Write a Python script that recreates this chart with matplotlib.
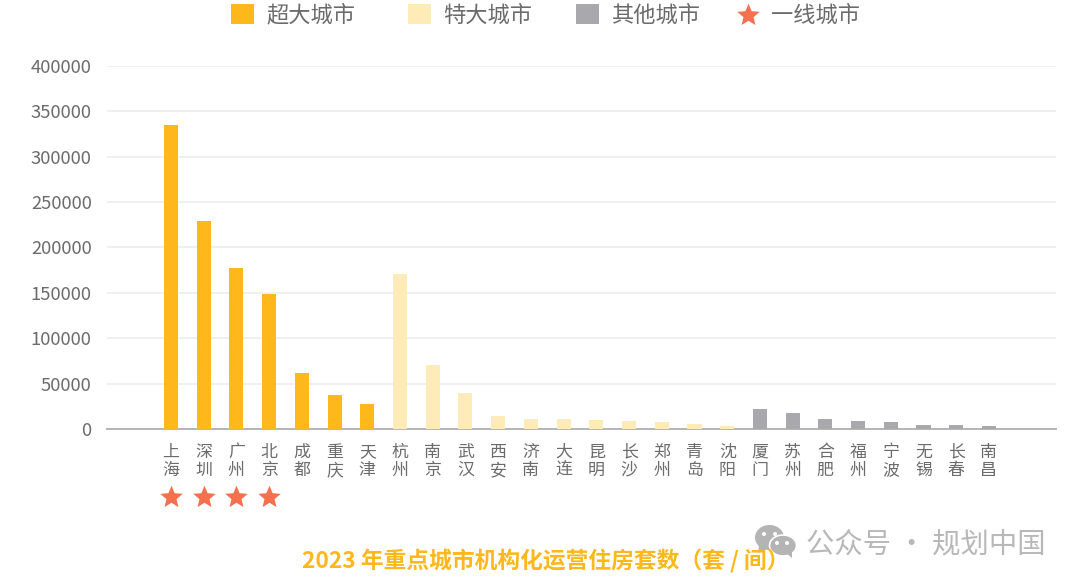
import matplotlib
matplotlib.use("Agg")
import matplotlib.pyplot as plt
from matplotlib.patches import Rectangle, Ellipse, Polygon
from matplotlib.lines import Line2D
from matplotlib.path import Path
from matplotlib.transforms import blended_transform_factory

plt.rcParams['font.family'] = ['Noto Sans CJK SC', 'DejaVu Sans']

cities_mega = ["上海", "深圳", "广州", "北京", "成都", "重庆", "天津"]
values_mega = [335000, 229000, 177000, 149000, 62000, 38000, 28000]
cities_super = ["杭州", "南京", "武汉", "西安", "济南", "大连", "昆明", "长沙", "郑州", "青岛", "沈阳"]
values_super = [171000, 70000, 40000, 14000, 10500, 10500, 10000, 9000, 7500, 5500, 3000]
cities_other = ["厦门", "苏州", "合肥", "福州", "宁波", "无锡", "长春", "南昌"]
values_other = [22000, 18000, 10500, 8500, 7500, 4000, 4000, 3000]
tier1 = ["上海", "深圳", "广州", "北京"]
yticks = [0, 50000, 100000, 150000, 200000, 250000, 300000, 350000, 400000]

C_MEGA, C_SUPER, C_OTHER, C_STAR = "#FFB81C", "#FFEBB8", "#A9A9AD", "#F4704F"
TXT = "#6B6B6B"
W, H = 1080, 586
FAT_STAR = Path.unit_regular_star(5, innerCircle=0.45)

fig = plt.figure(figsize=(W / 100, H / 100), dpi=100)
ax = fig.add_axes([107 / W, 1 - 429 / H, (1056 - 107) / W, (429 - 66) / H])

all_cities = cities_mega + cities_super + cities_other
x = list(range(len(all_cities)))
n1, n2 = len(cities_mega), len(cities_super)
ax.bar(x[:n1], values_mega, width=0.43, color=C_MEGA, zorder=3)
ax.bar(x[n1:n1 + n2], values_super, width=0.43, color=C_SUPER, zorder=3)
ax.bar(x[n1 + n2:], values_other, width=0.43, color=C_OTHER, zorder=3)

ax.set_xlim(-1.956, 27.05)
ax.set_ylim(0, 400000)
ax.set_yticks(yticks)
ax.set_xticks(x)
ax.set_xticklabels(["\n".join(c) for c in all_cities], linespacing=1.0)
ax.tick_params(axis='x', length=0, pad=10, labelsize=12.2, labelcolor=TXT)
ax.tick_params(axis='y', length=0, pad=11, labelsize=13.3, labelcolor=TXT)
ax.grid(axis='y', color="#EEEEF0", linewidth=1.2, zorder=0)
ax.set_axisbelow(True)
for s in ['top', 'right', 'left']:
    ax.spines[s].set_visible(False)
ax.spines['bottom'].set_color("#B5B5B5")
ax.spines['bottom'].set_linewidth(1.4)

# tier-1 stars below the axis
trans = blended_transform_factory(ax.transData, fig.transFigure)
star_x = [all_cities.index(c) for c in tier1]
ax.plot(star_x, [1 - 497 / H] * len(star_x), linestyle='none', marker=FAT_STAR, markersize=17,
        color=C_STAR, markeredgewidth=0, transform=trans, clip_on=False, zorder=5)

# legend
def fx(px): return px / W
def fy(py): return 1 - py / H
for left, col, label in [(231, C_MEGA, "超大城市"), (408, C_SUPER, "特大城市"), (576, C_OTHER, "其他城市")]:
    fig.add_artist(Rectangle((fx(left), fy(24)), 23 / W, 20 / H, facecolor=col, edgecolor='none',
                             transform=fig.transFigure))
    fig.text(fx(left + 35), fy(15), label, fontsize=16, color=TXT, va='center', ha='left')
fig.add_artist(Line2D([fx(748)], [fy(15)], marker=FAT_STAR, markersize=17, color=C_STAR, markeredgewidth=0,
                      linestyle='none', transform=fig.transFigure))
fig.text(fx(771), fy(15), "一线城市", fontsize=16, color=TXT, va='center', ha='left')

# title
fig.text(fx(546), fy(561), "2023 年重点城市机构化运营住房套数（套 / 间）", fontsize=16.4, fontweight='bold',
         color=C_MEGA, ha='center', va='center')

# watermark
WM = "#B4B4B4"
fig.add_artist(Polygon([(fx(759), fy(545)), (fx(758), fy(553)), (fx(767), fy(549))], facecolor=WM, edgecolor='none',
                       transform=fig.transFigure))
fig.add_artist(Ellipse((fx(769.5), fy(537.5)), 29 / W, 25 / H, facecolor=WM, edgecolor='none', transform=fig.transFigure))
fig.add_artist(Ellipse((fx(783), fy(545.5)), 27 / W, 21 / H, facecolor=WM, edgecolor='white', linewidth=1.2,
                       transform=fig.transFigure))
fig.add_artist(Polygon([(fx(786), fy(553)), (fx(792), fy(558)), (fx(792), fy(551))], facecolor=WM, edgecolor='none',
                       transform=fig.transFigure))
for ex, ey in [(764, 534), (775, 534), (777, 543), (787, 543)]:
    fig.add_artist(Ellipse((fx(ex), fy(ey)), 4 / W, 4 / H, facecolor='white', edgecolor='none',
                           transform=fig.transFigure))
fig.text(fx(806), fy(544), "公众号 · 规划中国", fontsize=20.4, color="#B8B8B8", ha='left', va='center')

fig.savefig("out.png", dpi=100)
